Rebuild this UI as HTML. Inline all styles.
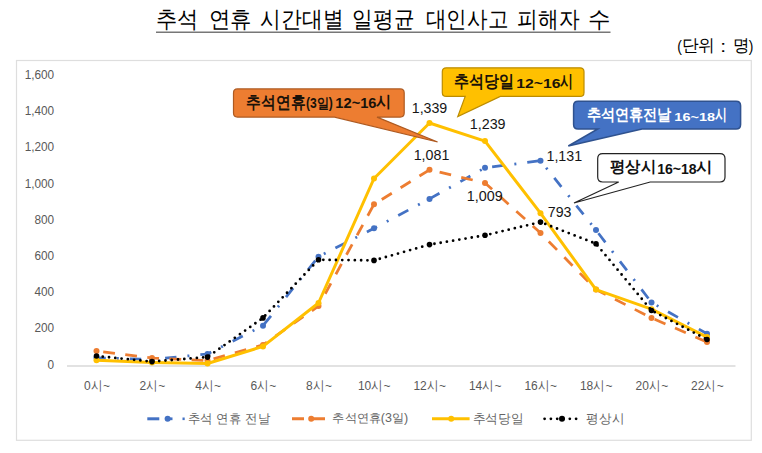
<!DOCTYPE html>
<html><head><meta charset="utf-8"><style>
html,body{margin:0;padding:0;background:#fff;width:762px;height:453px;overflow:hidden}
svg{display:block;font-family:"Liberation Sans", sans-serif}
</style></head><body>
<svg width="762" height="453" viewBox="0 0 762 453">
<text transform="matrix(0.9224 0 0 1 156.13 27.08)" font-size="22.78" font-weight="400" fill="#000">추석</text><text transform="matrix(0.9308 0 0 1 208.59 27.08)" font-size="22.78" font-weight="400" fill="#000">연휴</text><text transform="matrix(0.9021 0 0 1 260.08 27.08)" font-size="22.78" font-weight="400" fill="#000">시간대별</text><text transform="matrix(0.8967 0 0 1 352.36 27.08)" font-size="22.78" font-weight="400" fill="#000">일평균</text><text transform="matrix(0.8939 0 0 1 425.58 27.08)" font-size="22.78" font-weight="400" fill="#000">대인사고</text><text transform="matrix(0.9006 0 0 1 517.07 27.08)" font-size="22.78" font-weight="400" fill="#000">피해자</text><text transform="matrix(0.9762 0 0 1 588.24 27.08)" font-size="22.78" font-weight="400" fill="#000">수</text>
<line x1="156" y1="32.3" x2="610.5" y2="32.3" stroke="#777" stroke-width="1.6"/>
<text transform="matrix(0.8794 0 0 1 677.17 51.59)" font-size="15.74" font-weight="400" fill="#000">(</text><text transform="matrix(0.9847 0 0 1 682.11 50.79)" font-size="16.52" font-weight="400" fill="#000">단위</text><text transform="matrix(1.2506 0 0 1 720.21 52.00)" font-size="16.79" font-weight="400" fill="#000">:</text><text transform="matrix(0.9702 0 0 1 733.30 50.74)" font-size="16.85" font-weight="400" fill="#000">명</text><text transform="matrix(0.8619 0 0 1 748.76 51.53)" font-size="16.06" font-weight="400" fill="#000">)</text>
<rect x="16.5" y="60.5" width="734.8" height="379.8" fill="#fff" stroke="#dedede" stroke-width="1.2"/><text transform="matrix(0.9635 0 0 1 47.56 368.53)" font-size="12.25" fill="#595959">0</text><text transform="matrix(0.9635 0 0 1 34.46 332.35)" font-size="12.25" fill="#595959">200</text><text transform="matrix(0.9635 0 0 1 34.46 296.17)" font-size="12.25" fill="#595959">400</text><text transform="matrix(0.9635 0 0 1 34.46 259.99)" font-size="12.25" fill="#595959">600</text><text transform="matrix(0.9635 0 0 1 34.46 223.81)" font-size="12.25" fill="#595959">800</text><text transform="matrix(0.9635 0 0 1 24.66 187.63)" font-size="12.25" fill="#595959">1,000</text><text transform="matrix(0.9635 0 0 1 24.66 151.45)" font-size="12.25" fill="#595959">1,200</text><text transform="matrix(0.9635 0 0 1 24.66 115.27)" font-size="12.25" fill="#595959">1,400</text><text transform="matrix(0.9635 0 0 1 24.66 79.09)" font-size="12.25" fill="#595959">1,600</text><line x1="67" y1="366.0" x2="735.5" y2="366.0" stroke="#d9d9d9" stroke-width="1.4"/><text transform="matrix(0.8900 0 0 1 84.02 389.61)" font-size="13.48" fill="#595959">0시~</text><text transform="matrix(0.8900 0 0 1 139.46 389.61)" font-size="13.48" fill="#595959">2시~</text><text transform="matrix(0.8900 0 0 1 195.14 389.61)" font-size="13.48" fill="#595959">4시~</text><text transform="matrix(0.8900 0 0 1 250.46 389.61)" font-size="13.48" fill="#595959">6시~</text><text transform="matrix(0.8900 0 0 1 306.02 389.61)" font-size="13.48" fill="#595959">8시~</text><text transform="matrix(0.8900 0 0 1 357.92 389.61)" font-size="13.48" fill="#595959">10시~</text><text transform="matrix(0.8900 0 0 1 413.42 389.61)" font-size="13.48" fill="#595959">12시~</text><text transform="matrix(0.8900 0 0 1 468.92 389.61)" font-size="13.48" fill="#595959">14시~</text><text transform="matrix(0.8900 0 0 1 524.42 389.61)" font-size="13.48" fill="#595959">16시~</text><text transform="matrix(0.8900 0 0 1 579.92 389.61)" font-size="13.48" fill="#595959">18시~</text><text transform="matrix(0.8900 0 0 1 635.60 389.61)" font-size="13.48" fill="#595959">20시~</text><text transform="matrix(0.8900 0 0 1 691.10 389.61)" font-size="13.48" fill="#595959">22시~</text><polyline points="96.5,357.8 152.0,359.5 207.5,354.0 263.0,325.7 318.5,256.7 374.0,228.3 429.5,198.9 485.0,167.8 540.5,160.7 596.0,230.1 651.5,302.5 707.0,333.7" fill="none" stroke="#4472C4" stroke-width="2.75" stroke-dasharray="11.4 11 2 11" stroke-dashoffset="2.09"/><circle cx="96.5" cy="357.8" r="3" fill="#4472C4"/><circle cx="152.0" cy="359.5" r="3" fill="#4472C4"/><circle cx="207.5" cy="354.0" r="3" fill="#4472C4"/><circle cx="263.0" cy="325.7" r="3" fill="#4472C4"/><circle cx="318.5" cy="256.7" r="3" fill="#4472C4"/><circle cx="374.0" cy="228.3" r="3" fill="#4472C4"/><circle cx="429.5" cy="198.9" r="3" fill="#4472C4"/><circle cx="485.0" cy="167.8" r="3" fill="#4472C4"/><circle cx="540.5" cy="160.7" r="3" fill="#4472C4"/><circle cx="596.0" cy="230.1" r="3" fill="#4472C4"/><circle cx="651.5" cy="302.5" r="3" fill="#4472C4"/><circle cx="707.0" cy="333.7" r="3" fill="#4472C4"/><polyline points="96.5,351.1 152.0,358.0 207.5,360.6 263.0,344.9 318.5,306.1 374.0,204.3 429.5,169.8 485.0,182.9 540.5,233.0 596.0,289.6 651.5,317.9 707.0,342.0" fill="none" stroke="#ED7D31" stroke-width="2.75" stroke-dasharray="11.8 10.4" stroke-dashoffset="15.43"/><circle cx="96.5" cy="351.1" r="3" fill="#ED7D31"/><circle cx="152.0" cy="358.0" r="3" fill="#ED7D31"/><circle cx="207.5" cy="360.6" r="3" fill="#ED7D31"/><circle cx="263.0" cy="344.9" r="3" fill="#ED7D31"/><circle cx="318.5" cy="306.1" r="3" fill="#ED7D31"/><circle cx="374.0" cy="204.3" r="3" fill="#ED7D31"/><circle cx="429.5" cy="169.8" r="3" fill="#ED7D31"/><circle cx="485.0" cy="182.9" r="3" fill="#ED7D31"/><circle cx="540.5" cy="233.0" r="3" fill="#ED7D31"/><circle cx="596.0" cy="289.6" r="3" fill="#ED7D31"/><circle cx="651.5" cy="317.9" r="3" fill="#ED7D31"/><circle cx="707.0" cy="342.0" r="3" fill="#ED7D31"/><polyline points="96.5,360.2 152.0,362.4 207.5,363.5 263.0,346.4 318.5,303.0 374.0,178.5 429.5,123.0 485.0,141.1 540.5,213.2 596.0,289.6 651.5,309.2 707.0,337.1" fill="none" stroke="#FFC000" stroke-width="3" stroke-linejoin="round"/><circle cx="96.5" cy="360.2" r="3" fill="#FFC000"/><circle cx="152.0" cy="362.4" r="3" fill="#FFC000"/><circle cx="207.5" cy="363.5" r="3" fill="#FFC000"/><circle cx="263.0" cy="346.4" r="3" fill="#FFC000"/><circle cx="318.5" cy="303.0" r="3" fill="#FFC000"/><circle cx="374.0" cy="178.5" r="3" fill="#FFC000"/><circle cx="429.5" cy="123.0" r="3" fill="#FFC000"/><circle cx="485.0" cy="141.1" r="3" fill="#FFC000"/><circle cx="540.5" cy="213.2" r="3" fill="#FFC000"/><circle cx="596.0" cy="289.6" r="3" fill="#FFC000"/><circle cx="651.5" cy="309.2" r="3" fill="#FFC000"/><circle cx="707.0" cy="337.1" r="3" fill="#FFC000"/><polyline points="96.5,356.0 152.0,361.6 207.5,357.1 263.0,317.9 318.5,259.8 374.0,260.4 429.5,244.6 485.0,235.3 540.5,222.1 596.0,243.7 651.5,310.5 707.0,339.5" fill="none" stroke="#000" stroke-width="2.8" stroke-dasharray="0 6.3" stroke-linecap="round"/><circle cx="96.5" cy="356.0" r="2.8" fill="#000"/><circle cx="152.0" cy="361.6" r="2.8" fill="#000"/><circle cx="207.5" cy="357.1" r="2.8" fill="#000"/><circle cx="263.0" cy="317.9" r="2.8" fill="#000"/><circle cx="318.5" cy="259.8" r="2.8" fill="#000"/><circle cx="374.0" cy="260.4" r="2.8" fill="#000"/><circle cx="429.5" cy="244.6" r="2.8" fill="#000"/><circle cx="485.0" cy="235.3" r="2.8" fill="#000"/><circle cx="540.5" cy="222.1" r="2.8" fill="#000"/><circle cx="596.0" cy="243.7" r="2.8" fill="#000"/><circle cx="651.5" cy="310.5" r="2.8" fill="#000"/><circle cx="707.0" cy="339.5" r="2.8" fill="#000"/><text transform="matrix(1.0291 0 0 1 547.79 216.56)" font-size="13.80" font-weight="400" fill="#161616">793</text><text transform="matrix(0.9885 0 0 1 411.76 112.56)" font-size="14.37" font-weight="400" fill="#161616">1,339</text><text transform="matrix(1.0275 0 0 1 469.75 128.96)" font-size="13.94" font-weight="400" fill="#161616">1,239</text><text transform="matrix(1.0025 0 0 1 413.66 159.86)" font-size="14.23" font-weight="400" fill="#161616">1,081</text><text transform="matrix(0.9973 0 0 1 466.75 200.56)" font-size="14.37" font-weight="400" fill="#161616">1,009</text><text transform="matrix(1.0332 0 0 1 546.46 160.56)" font-size="13.80" font-weight="400" fill="#161616">1,131</text><path d="M237.5,88.9 H400.2 Q404.2,88.9 404.2,92.9 V113.1 Q404.2,117.1 400.2,117.1 H377 L437.6,142 L334.5,117.1 H237.5 Q233.5,117.1 233.5,113.1 V92.9 Q233.5,88.9 237.5,88.9 Z" fill="#ED7D31" stroke="#AE5A21" stroke-width="1.2"/><path d="M446.3,67.8 H580 Q584,67.8 584,71.8 V92.4 Q584,96.4 580,96.4 H500.3 L457.8,116.6 L465.2,96.4 H446.3 Q442.3,96.4 442.3,92.4 V71.8 Q442.3,67.8 446.3,67.8 Z" fill="#FFC000" stroke="#BC8C00" stroke-width="1.2"/><path d="M578.1,101.2 H736.1 Q740.6,101.2 740.6,105.7 V124.4 Q740.6,128.9 736.1,128.9 H642 L568.3,146 L597.8,128.9 H578.1 Q573.6,128.9 573.6,124.4 V105.7 Q573.6,101.2 578.1,101.2 Z" fill="#4472C4" stroke="#2F528F" stroke-width="1.5"/><path d="M602.7,153.6 H720 Q725,153.6 725,158.6 V177 Q725,182 720,182 H650.2 L574,203 L618.7,182 H602.7 Q597.7,182 597.7,177 V158.6 Q597.7,153.6 602.7,153.6 Z" fill="#fff" stroke="#222" stroke-width="1.2"/><text transform="matrix(0.8670 0 0 1 246.06 107.71)" font-size="16.99" font-weight="700" fill="#1a1209">추석연휴</text><text transform="matrix(0.8710 0 0 1 305.99 108.28)" font-size="13.92" font-weight="700" fill="#1a1209">(3일)</text><text transform="matrix(1.0640 0 0 1 335.32 108.36)" font-size="13.80" font-weight="700" fill="#1a1209">12~16</text><text transform="matrix(0.9492 0 0 1 376.39 107.49)" font-size="16.30" font-weight="700" fill="#1a1209">시</text><text transform="matrix(0.8828 0 0 1 454.36 86.89)" font-size="16.83" font-weight="700" fill="#1a1209">추석당일</text><text transform="matrix(1.1653 0 0 1 516.35 87.76)" font-size="13.52" font-weight="700" fill="#1a1209">12~16</text><text transform="matrix(0.7638 0 0 1 559.75 86.66)" font-size="16.52" font-weight="700" fill="#1a1209">시</text><text transform="matrix(0.8838 0 0 1 587.08 119.62)" font-size="16.34" font-weight="700" fill="#fff">추석연휴전날</text><text transform="matrix(1.2244 0 0 1 674.33 120.68)" font-size="11.83" font-weight="700" fill="#fff">16~18</text><text transform="matrix(0.7451 0 0 1 714.76 119.84)" font-size="15.98" font-weight="700" fill="#fff">시</text><text transform="matrix(0.9552 0 0 1 609.65 172.16)" font-size="15.87" font-weight="700" fill="#111">평상시</text><text transform="matrix(1.0201 0 0 1 657.16 173.56)" font-size="13.80" font-weight="700" fill="#111">16~18</text><text transform="matrix(1.0952 0 0 1 696.47 172.30)" font-size="15.00" font-weight="700" fill="#111">시</text><line x1="147.3" y1="418.8" x2="159.3" y2="418.8" stroke="#4472C4" stroke-width="3"/><line x1="167.6" y1="418.8" x2="172.5" y2="418.8" stroke="#4472C4" stroke-width="2.75"/><circle cx="167.6" cy="418.8" r="3" fill="#4472C4"/><rect x="182.5" y="417.5" width="2.2" height="2.6" fill="#4472C4"/><line x1="292" y1="418.8" x2="325" y2="418.8" stroke="#ED7D31" stroke-width="3" stroke-dasharray="12 9"/><circle cx="311.2" cy="418.8" r="3" fill="#ED7D31"/><line x1="432" y1="418.8" x2="469.6" y2="418.8" stroke="#FFC000" stroke-width="3"/><circle cx="451.2" cy="418.8" r="3" fill="#FFC000"/><line x1="544.6" y1="418.8" x2="578.6" y2="418.8" stroke="#000" stroke-width="2.8" stroke-dasharray="0 6.3" stroke-linecap="round"/><circle cx="562" cy="418.8" r="3" fill="#000"/><text transform="matrix(0.9552 0 0 1 187.62 422.53)" font-size="13.11" font-weight="400" fill="#646464">추석 연휴 전날</text><text transform="matrix(1.0180 0 0 1 332.42 421.92)" font-size="12.29" font-weight="400" fill="#646464">추석연휴(3일)</text><text transform="matrix(0.9795 0 0 1 472.60 422.93)" font-size="13.11" font-weight="400" fill="#646464">추석당일</text><text transform="matrix(0.9643 0 0 1 586.26 422.54)" font-size="13.26" font-weight="400" fill="#646464">평상시</text>
</svg>
</body></html>
